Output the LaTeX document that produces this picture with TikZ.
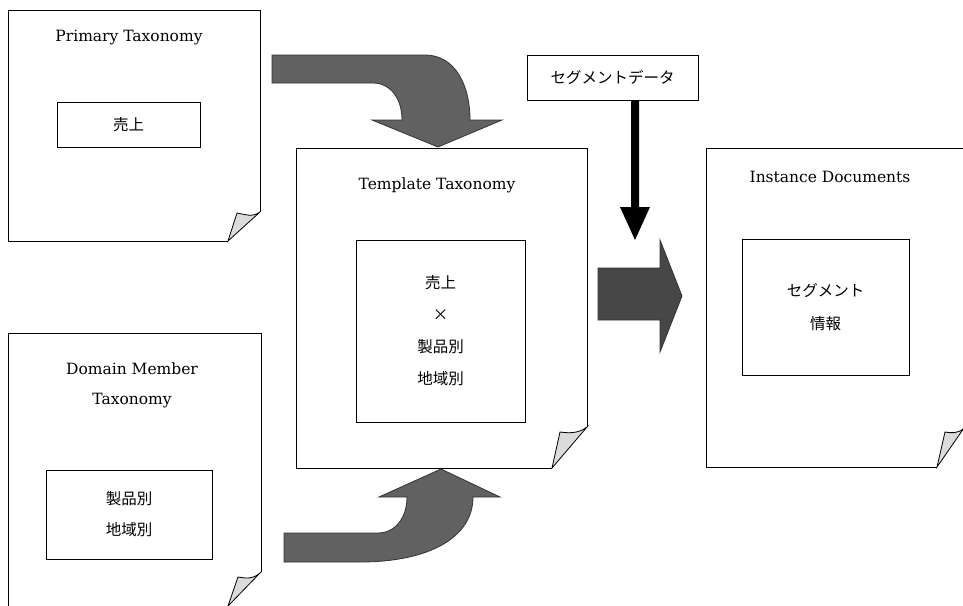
\documentclass[tikz,border=0pt]{standalone}
\usepackage{fontspec}
\setmainfont{DejaVu Serif}
\newfontfamily\jp{Noto Sans CJK JP}
\begin{document}
\begin{tikzpicture}[x=1pt,y=-1pt,
  page/.style={draw=black,line width=0.9pt,fill=white,line join=miter},
  fold/.style={draw=black,line width=0.8pt,fill=black!14,line join=miter},
  inbox/.style={draw=black,line width=0.8pt,fill=white,inner sep=0pt},
  ttl/.style={font=\fontsize{15.5}{30}\selectfont,align=center,inner sep=0pt},
  jtxt/.style={font=\jp\fontsize{15.5}{31}\selectfont,align=center},
  blockarrow/.style={draw=black!80,line width=0.8pt,fill=black!62,line join=miter},
]
\useasboundingbox (0,0) rectangle (963,605);

% ---- Primary Taxonomy page
\draw[page] (228,241) -- (8,241) -- (8,10) -- (260,10) -- (260,212);
\draw[fold] (228,241) -- (237,213) .. controls (244,214) and (252,218) .. (260,212) -- cycle;
\node[ttl] (ptitle) at (129,38) {Primary Taxonomy};
\node[inbox,minimum width=143pt,minimum height=45pt,jtxt] (pbox) at (128.5,124.5) {売上};

% ---- Domain Member Taxonomy page
\draw[page] (228,612) -- (8,612) -- (8,333) -- (261,333) -- (261,572);
\draw[fold] (228,606) -- (238,577) .. controls (245,578) and (253,580) .. (261,572) -- cycle;
\node[ttl] (dtitle) at (132,385) {Domain Member\\Taxonomy};
\node[inbox,minimum width=166pt,minimum height=89pt,jtxt] (dbox) at (129,514.5) {製品別\\地域別};

% ---- Template Taxonomy page
\draw[page] (552,468) -- (296,468) -- (296,148) -- (587,148) -- (587,427);
\draw[fold] (552,468) -- (560,432) .. controls (568,433) and (578,434) .. (587,427) -- cycle;
\node[ttl] (ttitle) at (437,185) {Template Taxonomy};
\node[inbox,minimum width=169pt,minimum height=182pt,jtxt,font=\jp\fontsize{15.5}{32}\selectfont] (tbox) at (440.5,331) {売上\\×\\製品別\\地域別};

% ---- Instance Documents page
\draw[page] (937,467) -- (706,467) -- (706,148) -- (964,148) -- (964,428);
\draw[fold] (937,467) -- (945,432) .. controls (951,433) and (958,434) .. (964,428) -- cycle;
\node[ttl] (ititle) at (830,177) {Instance Documents};
\node[inbox,minimum width=167pt,minimum height=136pt,jtxt,font=\jp\fontsize{15.5}{33}\selectfont] (ibox) at (825.5,307) {セグメント\\情報};

% ---- Segment data box
\node[inbox,minimum width=171pt,minimum height=45pt,jtxt] (sbox) at (612.5,77.5) {セグメントデータ};

% ---- black down arrow
\coordinate (dtip) at (635,240);
\fill[black] (sbox.south -| 631,0) -- (631,207) -- (620,207) -- (dtip) -- (650,207) -- (639,207) -- (sbox.south -| 639,0) -- cycle;

% ---- top curved arrow
\draw[blockarrow] (272,55) -- (425,55) .. controls (455,55) and (470,85) .. (470,120)
  -- (502,120) -- (438,147) -- (372,120) -- (402,120)
  .. controls (402,98) and (390,83) .. (373,83) -- (272,83) -- cycle;

% ---- bottom curved arrow
\draw[blockarrow] (284,533) -- (378,533) .. controls (395,533) and (407,518) .. (407,497)
  -- (379,497) -- (441,469) -- (500,497) -- (473,497)
  .. controls (473,537) and (430,562) .. (360,562) -- (284,562) -- cycle;

% ---- right block arrow
\draw[blockarrow,fill=black!72] (598,268) -- (660,268) -- (660,240) -- (682,296) -- (660,352) -- (660,320) -- (598,320) -- cycle;
\end{tikzpicture}
\end{document}
